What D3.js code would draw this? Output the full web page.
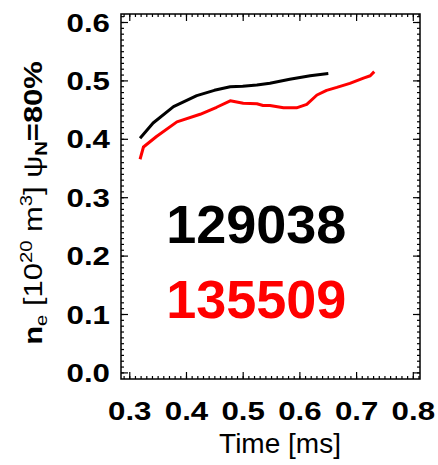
<!DOCTYPE html>
<html>
<head>
<meta charset="utf-8">
<script src="https://cdn.jsdelivr.net/npm/d3@7"></script>
<style>
  body { margin: 0; background: #fff; }
  text { font-family: "Liberation Sans", Arial, Helvetica, sans-serif; }
</style>
</head>
<body>
<svg id="chart" width="438" height="465"></svg>
<script>
// Shot 129038 (black): edge density vs time
const time129038 = [0.319, 0.342, 0.378, 0.419, 0.450, 0.478, 0.500, 0.525, 0.548, 0.583, 0.619, 0.651];
const dens129038 = [0.401, 0.427, 0.455, 0.474, 0.483, 0.489, 0.490, 0.492, 0.495, 0.502, 0.508, 0.512];

// Shot 135509 (red)
const time135509 = [0.319, 0.325, 0.348, 0.384, 0.425, 0.454, 0.478, 0.501, 0.525, 0.536, 0.548, 0.572, 0.595, 0.613, 0.631, 0.648, 0.666, 0.689, 0.713, 0.725, 0.732];
const dens135509 = [0.365, 0.386, 0.404, 0.429, 0.442, 0.454, 0.465, 0.461, 0.460, 0.457, 0.457, 0.453, 0.453, 0.459, 0.475, 0.483, 0.488, 0.495, 0.504, 0.508, 0.515];

const xTicks = [0.3, 0.4, 0.5, 0.6, 0.7, 0.8];
const yTicks = [0.0, 0.1, 0.2, 0.3, 0.4, 0.5, 0.6];
const xMinorTicks = d3.range(29, 82).map(d => d / 100);
const yMinorTicks = d3.range(0, 62).map(d => d / 100);

const shots = [
  { label: "129038", color: "#000000", t: time129038, n: dens129038, at: [0.365, 0.2215] },
  { label: "135509", color: "#ff0000", t: time135509, n: dens135509, at: [0.365, 0.093] }
];

const svg = d3.select("#chart");
const plotLeft = 121, plotRight = 420, plotTop = 14, plotBottom = 379;

const x = d3.scaleLinear().domain([0.2854, 0.8127]).range([plotLeft, plotRight]);
const y = d3.scaleLinear().domain([-0.0113, 0.6137]).range([plotBottom, plotTop]);

const fmt = d3.format(".1f");
const labelStretch = 1.25;

// minor ticks on all four sides, pointing inward
const minorLen = 3, majorLen = 7;
svg.append("g").attr("transform", `translate(0,${plotBottom})`)
  .call(d3.axisBottom(x).tickValues(xMinorTicks).tickSize(-minorLen).tickFormat(""));
svg.append("g").attr("transform", `translate(0,${plotTop})`)
  .call(d3.axisTop(x).tickValues(xMinorTicks).tickSize(-minorLen).tickFormat(""));
svg.append("g").attr("transform", `translate(${plotLeft},0)`)
  .call(d3.axisLeft(y).tickValues(yMinorTicks).tickSize(-minorLen).tickFormat(""));
svg.append("g").attr("transform", `translate(${plotRight},0)`)
  .call(d3.axisRight(y).tickValues(yMinorTicks).tickSize(-minorLen).tickFormat(""));

// major ticks on top/right, no labels
svg.append("g").attr("transform", `translate(0,${plotTop})`)
  .call(d3.axisTop(x).tickValues(xTicks).tickSize(-majorLen).tickFormat(""));
svg.append("g").attr("transform", `translate(${plotRight},0)`)
  .call(d3.axisRight(y).tickValues(yTicks).tickSize(-majorLen).tickFormat(""));

// labelled bottom and left axes
const xAxis = svg.append("g").attr("transform", `translate(0,${plotBottom})`)
  .call(d3.axisBottom(x).tickValues(xTicks).tickSize(-majorLen).tickPadding(0).tickFormat(fmt));
xAxis.selectAll("text")
  .attr("y", 41).attr("dy", null)
  .attr("transform", `scale(${labelStretch},1)`)
  .style("font-size", "25px").style("font-weight", "bold").attr("fill", "#000");

const yAxis = svg.append("g").attr("transform", `translate(${plotLeft},0)`)
  .call(d3.axisLeft(y).tickValues(yTicks).tickSize(-majorLen).tickPadding(0).tickFormat(fmt));
yAxis.selectAll("text")
  .attr("x", -11 / labelStretch).attr("dy", "0.36em")
  .attr("transform", `scale(${labelStretch},1)`)
  .style("font-size", "25px").style("font-weight", "bold").attr("fill", "#000");

svg.selectAll(".domain").remove();
svg.selectAll(".tick line").attr("stroke", "#000").attr("stroke-width", 1.2);

// frame
svg.append("rect")
  .attr("x", plotLeft).attr("y", plotTop)
  .attr("width", plotRight - plotLeft).attr("height", plotBottom - plotTop)
  .attr("fill", "none").attr("stroke", "#000").attr("stroke-width", 1.5);

// curves
const line = d3.line().x(d => x(d[0])).y(d => y(d[1]));
shots.forEach(s => {
  svg.append("path")
    .datum(s.t.map((t, i) => [t, s.n[i]]))
    .attr("d", line)
    .attr("fill", "none")
    .attr("stroke", s.color)
    .attr("stroke-width", 3)
    .attr("stroke-linejoin", "round")
    .attr("stroke-linecap", "butt");
  svg.append("text")
    .attr("x", x(s.at[0])).attr("y", y(s.at[1]))
    .attr("fill", s.color)
    .style("font-size", "54px").style("font-weight", "bold")
    .text(s.label);
});

// x title
svg.append("text")
  .attr("x", 280).attr("y", 453)
  .attr("text-anchor", "middle")
  .style("font-size", "28px")
  .text("Time [ms]");

// y title with sub/superscripts
const yTitle = svg.append("text")
  .attr("text-anchor", "middle")
  .attr("transform", "translate(42,203) rotate(-90) scale(1.19,1)")
  .style("font-size", "26px");
yTitle.append("tspan").style("font-weight", "bold").text("n");
yTitle.append("tspan").attr("dy", 5).style("font-size", "17px").text("e");
yTitle.append("tspan").attr("dy", -5).text(" [10");
yTitle.append("tspan").attr("dy", -10).style("font-size", "17px").text("20");
yTitle.append("tspan").attr("dy", 10).text(" m");
yTitle.append("tspan").attr("dy", -10).style("font-size", "17px").text("3");
yTitle.append("tspan").attr("dy", 10).text("] ψ");
yTitle.append("tspan").attr("dy", 5).style("font-size", "17px").style("font-weight", "bold").text("N");
yTitle.append("tspan").attr("dy", -5).style("font-weight", "bold").text("=80%");
</script>
</body>
</html>
